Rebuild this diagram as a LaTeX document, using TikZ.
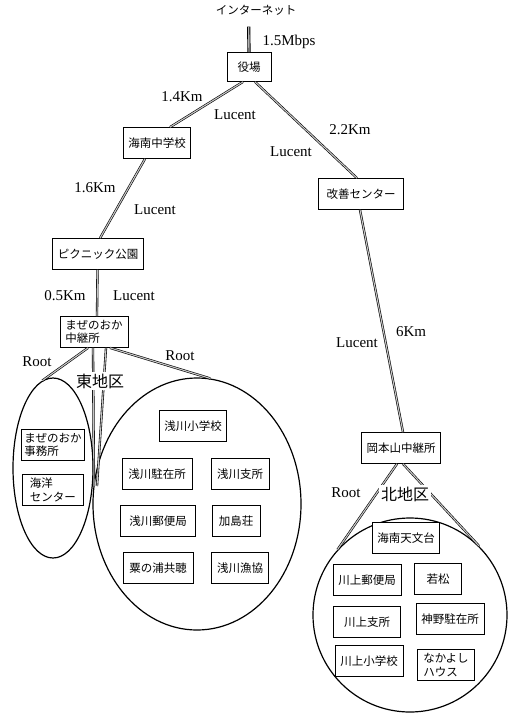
\documentclass[tikz,border=0pt]{standalone}
\usepackage{fontspec}
\setmainfont{Liberation Serif}
\newfontfamily\jp{Noto Sans CJK JP}
\usetikzlibrary{shapes.geometric}
\begin{document}
\begin{tikzpicture}[x=1pt,y=-1pt,
  box/.style={draw, line width=0.7pt, fill=white, font=\jp\fontsize{11.5}{13.5}\selectfont, inner xsep=5pt, inner ysep=2pt, minimum height=31pt},
  box2/.style={box, align=left, inner xsep=3pt},
  lab/.style={font=\fontsize{15}{16}\selectfont, inner sep=1pt},
  area/.style={font=\jp\fontsize{16}{18}\selectfont, fill=white, inner sep=2pt},
  link/.style={draw, double=gray!45, double distance=1.1pt, line width=0.6pt},
  zone/.style={draw, ellipse, line width=1.2pt, inner sep=0pt}
]
\useasboundingbox (0,0) rectangle (508,718);

% zones
\node[zone, minimum width=80pt, minimum height=180pt] (eL) at (53,468) {};
\node[zone, minimum width=208pt, minimum height=252pt] (eR) at (197,504) {};
\node[zone, minimum width=194pt, minimum height=194pt] (cN) at (410,615) {};

% tree boxes
\node[font=\jp\fontsize{11.5}{13}\selectfont] (inet) at (256,10) {インターネット};
\node[box, minimum width=44pt, minimum height=29pt] (yb) at (249,67) {役場};
\node[box] (kn) at (157,143) {海南中学校};
\node[box, minimum width=85pt] (ks) at (361,194) {改善センター};
\node[box, minimum width=91pt] (pk) at (98,254) {ピクニック公園};
\node[box2, minimum width=68pt] (mz) at (94,332) {まぜのおか\\中継所};
\node[box] (ok) at (401,448) {岡本山中継所};

% east boxes
\node[box2, minimum width=63pt] (mj) at (53,445) {まぜのおか\\事務所};
\node[box2, minimum width=61pt] (ky) at (53,490) {海洋\\センター};
\node[box] (e1) at (193,426) {浅川小学校};
\node[box, minimum width=70pt] (e2) at (157,474) {浅川駐在所};
\node[box, minimum width=58pt] (e3) at (240,474) {浅川支所};
\node[box, minimum width=75pt] (e4) at (158,521) {浅川郵便局};
\node[box, minimum width=48pt] (e5) at (236,521) {加島荘};
\node[box, minimum width=70pt] (e6) at (158,568) {粟の浦共聴};
\node[box, minimum width=57pt] (e7) at (240,568) {浅川漁協};

% north boxes
\node[box, minimum width=63pt] (n1) at (406,538) {海南天文台};
\node[box, minimum width=68pt] (n2) at (367,580) {川上郵便局};
\node[box, minimum width=47pt] (n3) at (438,579) {若松};
\node[box, minimum width=67pt] (n4) at (367,622) {川上支所};
\node[box, minimum width=68pt] (n5) at (450,619) {神野駐在所};
\node[box, minimum width=68pt] (n6) at (369,661) {川上小学校};
\node[box2, minimum width=57pt] (n7) at (446,665) {なかよし\\ハウス};

% links
\path[link, line width=0.9pt, double=gray!60, double distance=1.4pt] ([xshift=-7.3pt,yshift=-8pt]inet.south) -- (yb.north);
\path[link] ([xshift=-6pt]yb.south) -- ([xshift=13pt]kn.north);
\path[link] ([xshift=6pt]yb.south) -- ([xshift=-4pt]ks.north);
\path[link] ([xshift=-12pt]kn.south) -- ([xshift=2pt]pk.north);
\path[link] ([xshift=-0.5pt]pk.south) -- ([xshift=3pt]mz.north);
\path[link] ([xshift=-1pt]ks.south) -- ([xshift=2pt]ok.north);
% east branches
\coordinate (eT1) at (94,486);
\coordinate (eT2) at (97,486);
\path[link] ([xshift=-6pt]mz.south) -- (eL.97);
\path[link] ([xshift=16pt]mz.south) -- (eR.84);
\path[link] ([xshift=-1pt]mz.south) -- (eT1);
\path[link] ([xshift=12pt]mz.south) -- (eT2);
% north branches
\path[link] ([xshift=-4pt]ok.south) -- (cN.138);
\path[link] ([xshift=2pt]ok.south) -- (cN.45);

% area labels
\node[area] (east) at (100,381) {東地区};
\node[area] (north) at (405,494) {北地区};

% link labels
\node[lab] (l0) at (289,42) {1.5Mbps};
\node[lab] (l1) at (182,97) {1.4Km};
\node[lab] (l2) at (235,115) {Lucent};
\node[lab] (l3) at (350,130) {2.2Km};
\node[lab] (l4) at (291,152) {Lucent};
\node[lab] (l5) at (95,188) {1.6Km};
\node[lab] (l6) at (155,210) {Lucent};
\node[lab] (l7) at (65,296) {0.5Km};
\node[lab] (l8) at (134,296) {Lucent};
\node[lab] (l9) at (37,362) {Root};
\node[lab] (l10) at (180,356) {Root};
\node[lab] (l11) at (411,332) {6Km};
\node[lab] (l12) at (357,343) {Lucent};
\node[lab] (l13) at (346,493) {Root};
\end{tikzpicture}
\end{document}
